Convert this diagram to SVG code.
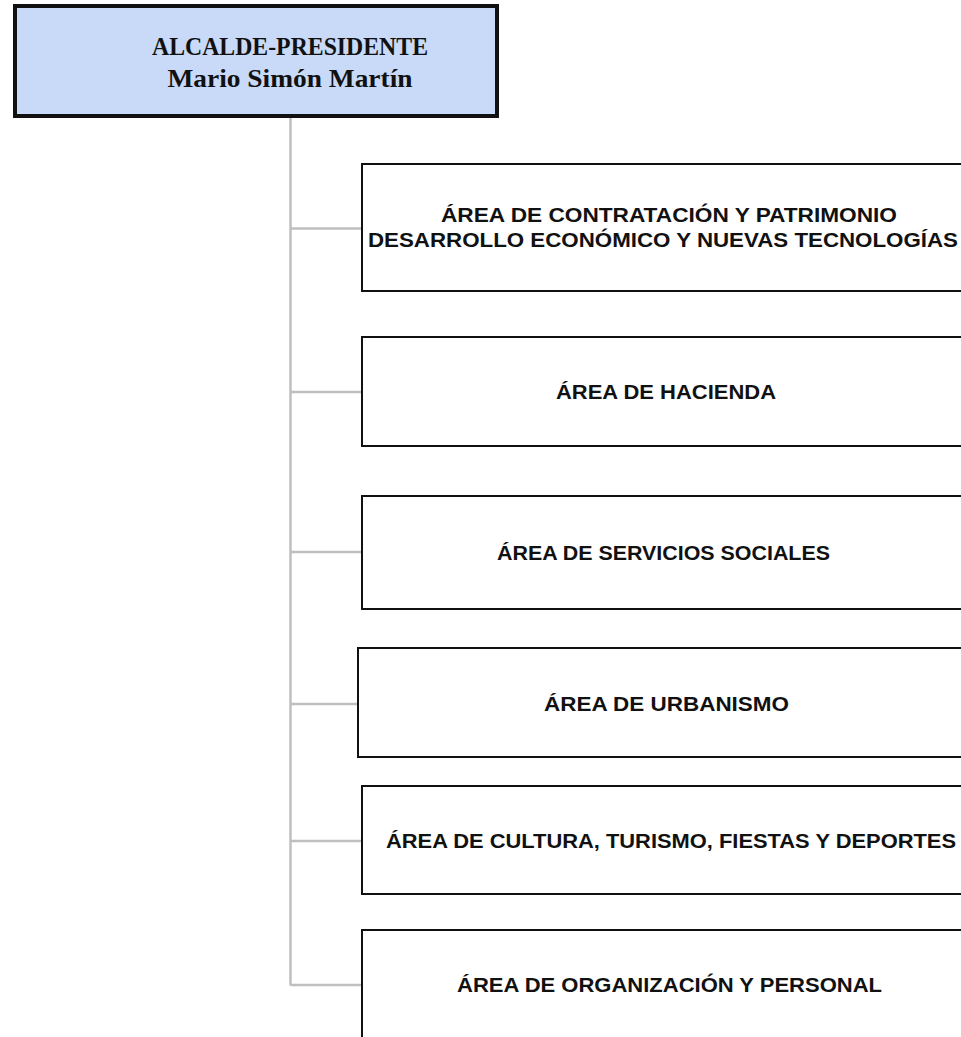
<svg xmlns="http://www.w3.org/2000/svg" width="961" height="1037" viewBox="0 0 961 1037">
<style>
.bg{fill:#ffffff}
.top{fill:#c9daf8;stroke:#111111;stroke-width:4}
.box{fill:#ffffff;stroke:#111111;stroke-width:2}
.conn{stroke:#bfbfbf;stroke-width:2.5;fill:none}
.ht{font-family:"Liberation Serif","DejaVu Serif",serif;font-weight:bold;font-size:25px;fill:#111111;text-anchor:middle}
.at{font-family:"Liberation Sans",Arial,sans-serif;font-weight:bold;font-size:21px;fill:#111111;text-anchor:middle}
</style>
<rect class="bg" x="0" y="0" width="961" height="1037"/>
<g id="connectors">
<path class="conn" d="M290.5 118 V985.5"/>
<path class="conn" d="M290.5 228.5 H362"/>
<path class="conn" d="M290.5 392 H362"/>
<path class="conn" d="M290.5 552 H362"/>
<path class="conn" d="M290.5 704 H358"/>
<path class="conn" d="M290.5 841 H362"/>
<path class="conn" d="M290.5 985 H362"/>
</g>
<g id="alcalde">
<rect class="top" x="15" y="6" width="482" height="110"/>
<text class="ht" x="290" y="55" textLength="276" lengthAdjust="spacingAndGlyphs">ALCALDE-PRESIDENTE</text>
<text class="ht" x="290" y="87" textLength="245" lengthAdjust="spacingAndGlyphs">Mario Simón Martín</text>
</g>
<g id="area-contratacion">
<rect class="box" x="362" y="164" width="620" height="127"/>
<text class="at" x="669" y="222" textLength="456" lengthAdjust="spacingAndGlyphs">ÁREA DE CONTRATACIÓN Y PATRIMONIO</text>
<text class="at" x="663" y="247" textLength="590" lengthAdjust="spacingAndGlyphs">DESARROLLO ECONÓMICO Y NUEVAS TECNOLOGÍAS</text>
</g>
<g id="area-hacienda">
<rect class="box" x="362" y="337" width="620" height="109"/>
<text class="at" x="666" y="399" textLength="220" lengthAdjust="spacingAndGlyphs">ÁREA DE HACIENDA</text>
</g>
<g id="area-servicios">
<rect class="box" x="362" y="496" width="620" height="113"/>
<text class="at" x="663.5" y="560" textLength="333" lengthAdjust="spacingAndGlyphs">ÁREA DE SERVICIOS SOCIALES</text>
</g>
<g id="area-urbanismo">
<rect class="box" x="358" y="648" width="620" height="109"/>
<text class="at" x="666.5" y="711" textLength="245" lengthAdjust="spacingAndGlyphs">ÁREA DE URBANISMO</text>
</g>
<g id="area-cultura">
<rect class="box" x="362" y="786" width="620" height="108"/>
<text class="at" x="671" y="848" textLength="570" lengthAdjust="spacingAndGlyphs">ÁREA DE CULTURA, TURISMO, FIESTAS Y DEPORTES</text>
</g>
<g id="area-organizacion">
<rect class="box" x="362" y="930" width="620" height="130"/>
<text class="at" x="669.5" y="992" textLength="425" lengthAdjust="spacingAndGlyphs">ÁREA DE ORGANIZACIÓN Y PERSONAL</text>
</g>
</svg>
